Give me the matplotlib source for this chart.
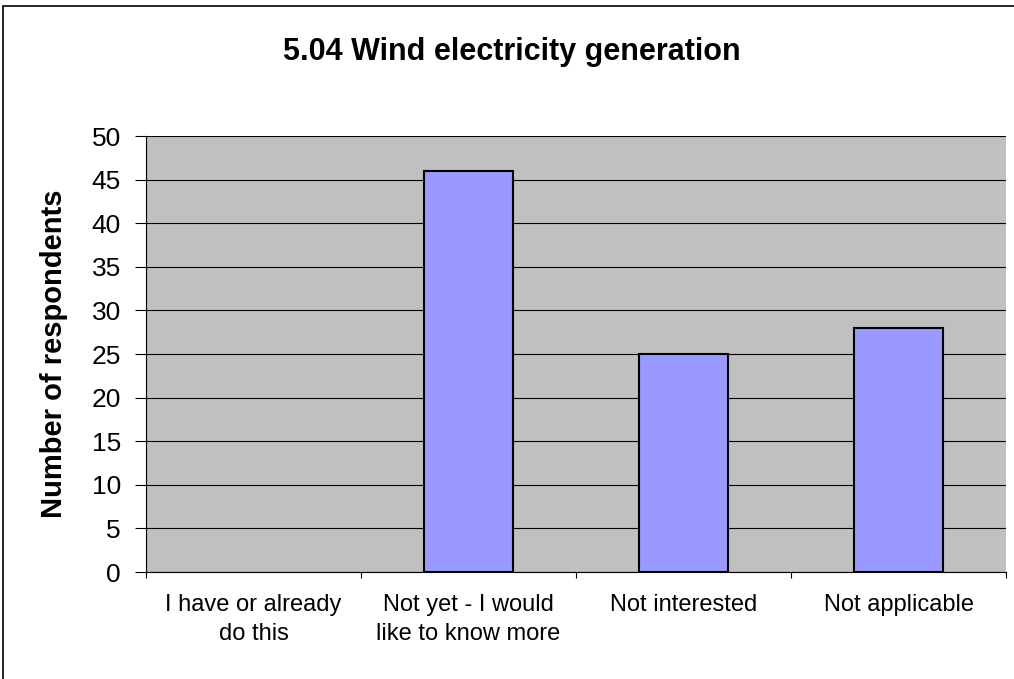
import matplotlib
matplotlib.use("Agg")
import matplotlib.pyplot as plt
from matplotlib.patches import Rectangle

categories = ["I have or already\ndo this", "Not yet - I would\nlike to know more", "Not interested", "Not applicable"]
values = [0, 46, 25, 28]
yticks = [0, 5, 10, 15, 20, 25, 30, 35, 40, 45, 50]

plt.rcParams['font.family'] = ['Liberation Sans', 'DejaVu Sans']

fig = plt.figure(figsize=(10.14, 6.79), dpi=100)
ax = fig.add_axes([146/1014, 1-572/679, (1006-146)/1014, (572-136)/679])
ax.set_facecolor('#C0C0C0')

x = list(range(len(categories)))
edges = ['black' if v > 0 else 'none' for v in values]
ax.bar(x, values, width=0.41, color='#9999FF', edgecolor=edges, linewidth=1.5, zorder=3)

ax.set_xlim(-0.5, len(categories)-0.5)
ax.set_ylim(0, 50)
ax.set_yticks(yticks)
ax.set_yticklabels([str(t) for t in yticks], fontsize=19)
ax.yaxis.grid(True, color='black', linewidth=0.8, zorder=0)
ax.set_axisbelow(True)

ax.set_xticks(x)
ax.set_xticklabels(categories, fontsize=17, linespacing=1.42)
ax.tick_params(axis='x', length=0, pad=16)
ax.set_xticks([i - 0.5 for i in range(len(categories)+1)], minor=True)
ax.tick_params(axis='x', which='minor', length=4.5, width=0.8, color='black', direction='out')
ax.tick_params(axis='y', length=8, width=0.8, direction='out', pad=10)

for s in ['top', 'right']:
    ax.spines[s].set_visible(False)
ax.spines['left'].set_linewidth(0.8)
ax.spines['bottom'].set_linewidth(0.8)

ax.set_ylabel("Number of respondents", fontsize=21, fontweight='bold', labelpad=17)
fig.text(512/1014, 1-52/679, "5.04 Wind electricity generation", fontsize=22, fontweight='bold',
         ha='center', va='center')

fig.patches.append(Rectangle((3/1014, -0.1), 1.1, 1-6/679+0.1, transform=fig.transFigure,
                             fill=False, edgecolor='black', linewidth=1.2))

fig.savefig("out.png", dpi=100)
